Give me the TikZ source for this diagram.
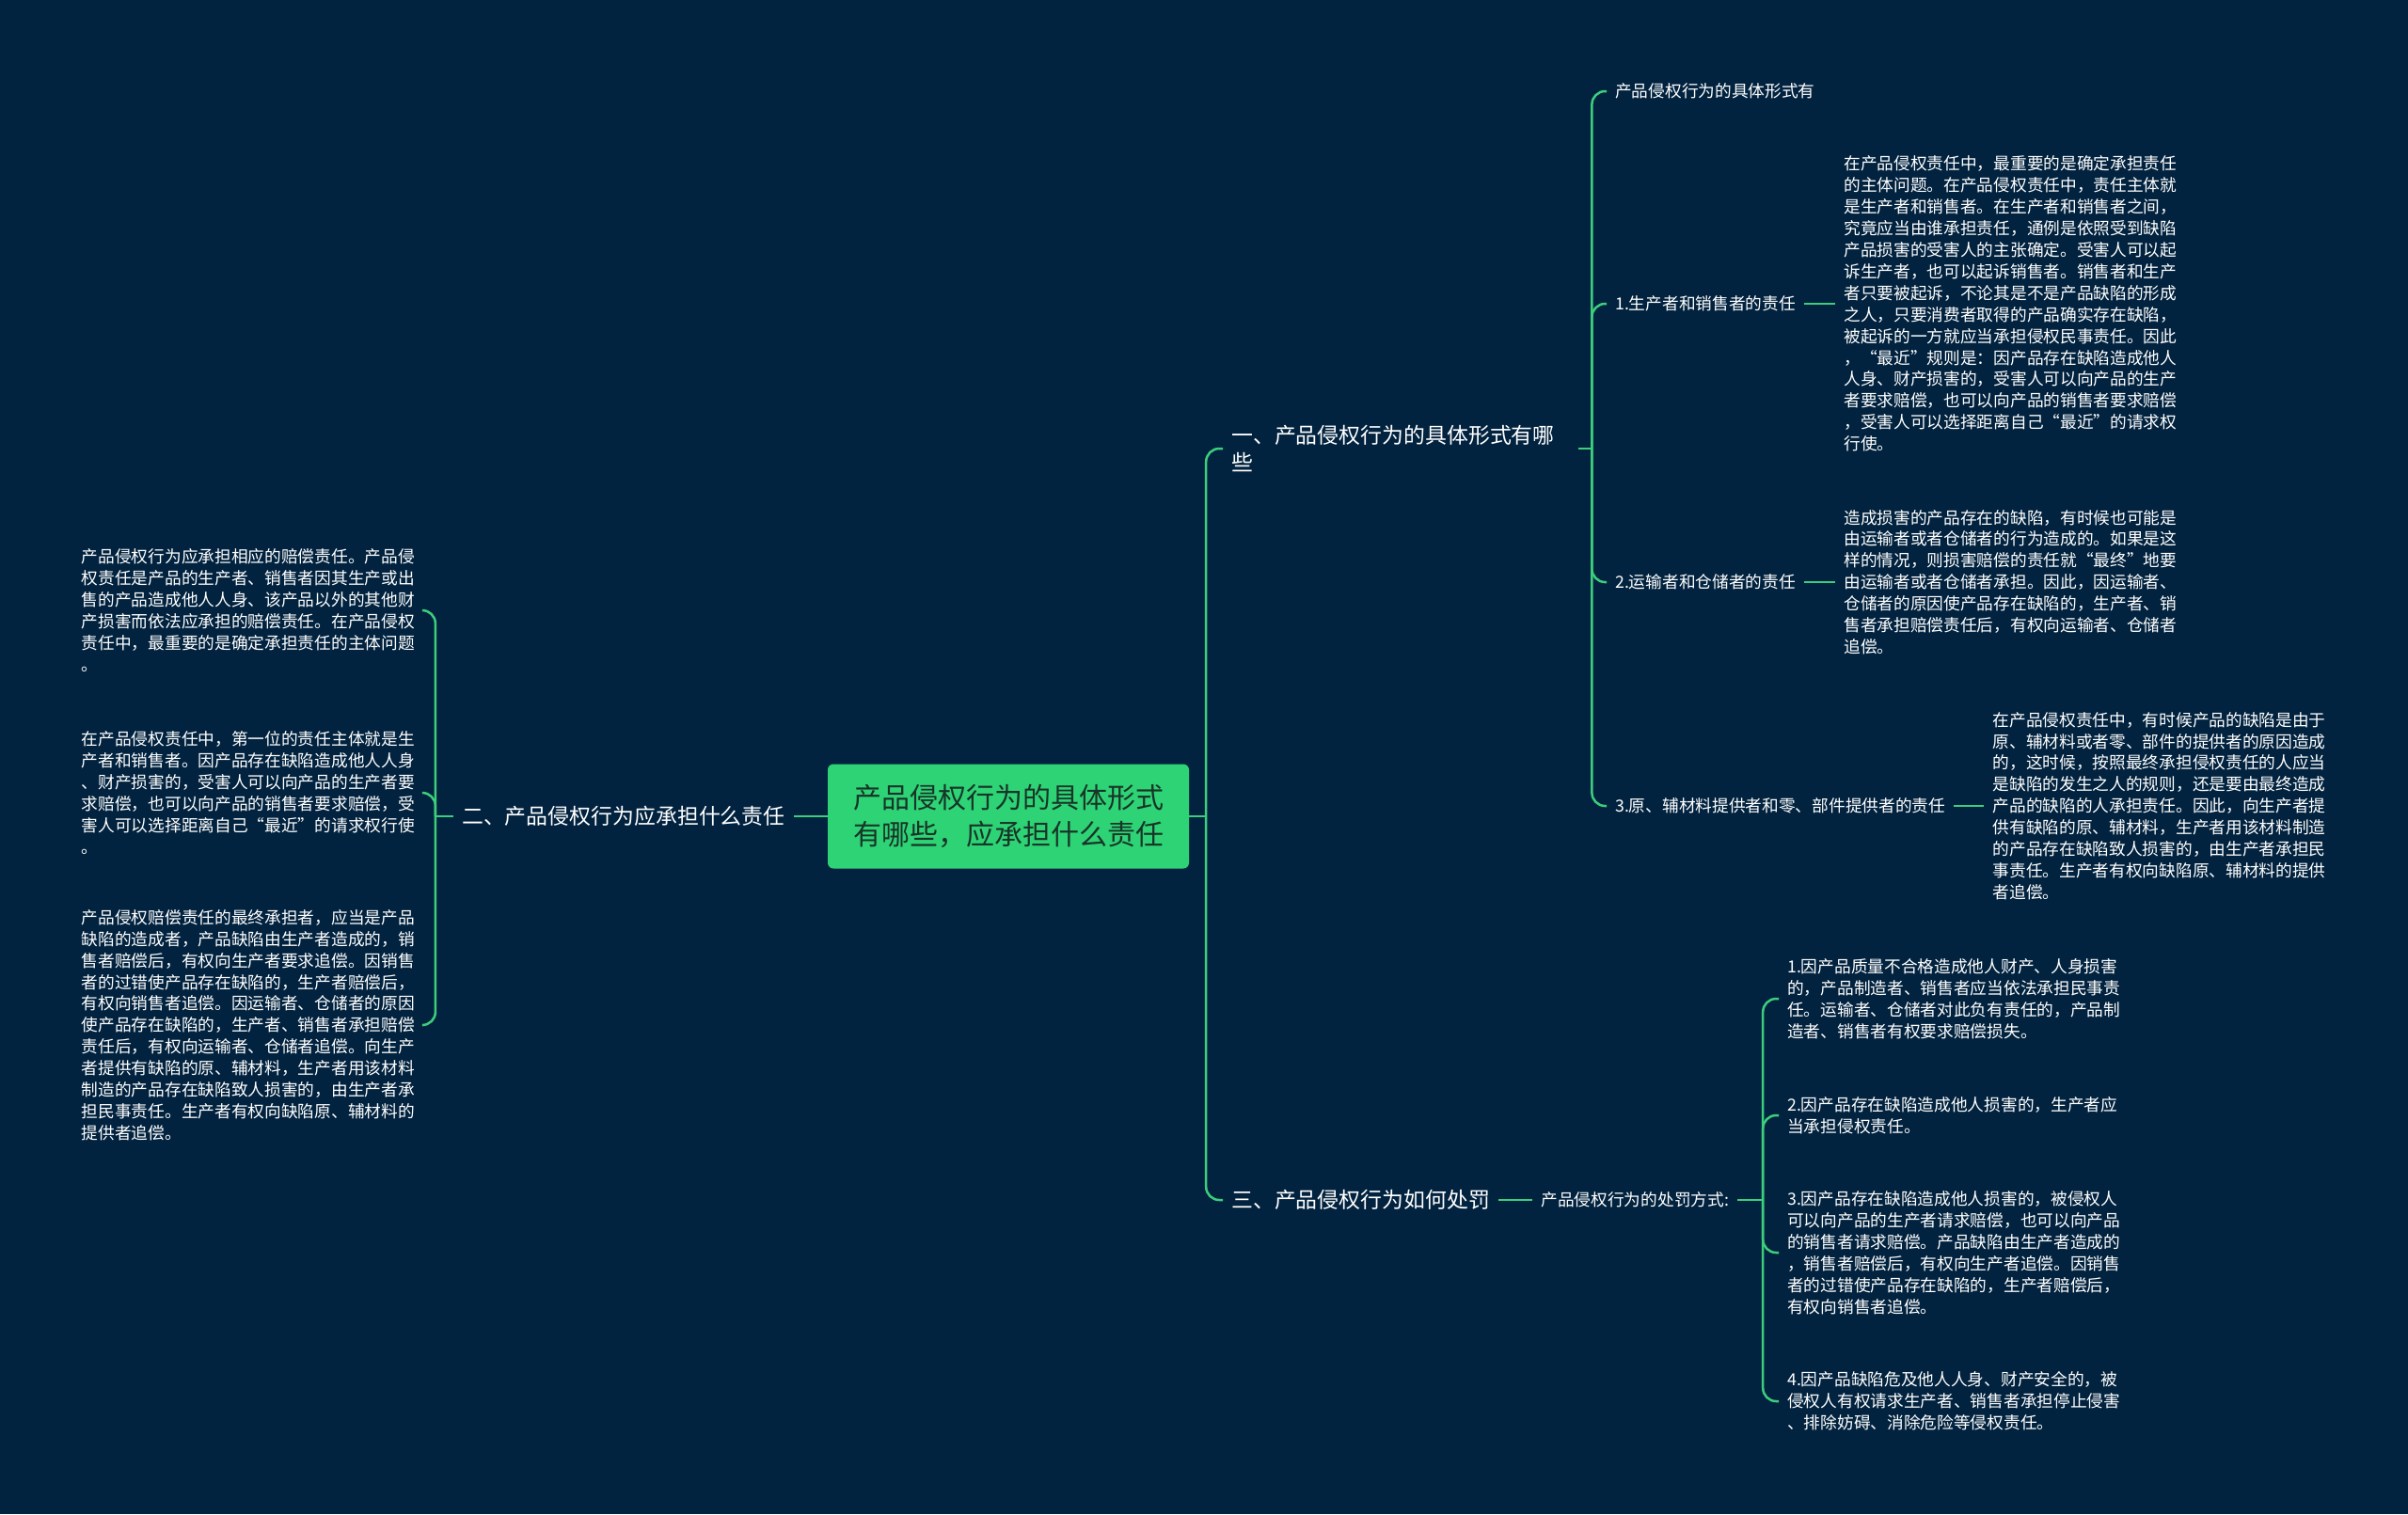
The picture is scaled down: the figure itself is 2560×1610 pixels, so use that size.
\documentclass[tikz,border=0pt]{standalone}
\usepackage{fontspec}
\setmainfont{Noto Sans CJK SC}
\usetikzlibrary{positioning}
\definecolor{bgnavy}{RGB}{2,35,63}
\definecolor{rootfill}{RGB}{46,211,117}
\definecolor{rootink}{RGB}{24,52,40}
\definecolor{linkgreen}{RGB}{60,205,125}
\tikzset{
  rootbox/.style={fill=rootfill, text=rootink, rounded corners=6pt, minimum width=384pt, minimum height=111pt, align=center, font=\fontsize{30}{39}\selectfont},
  branch/.style={text=white, inner xsep=9pt, inner ysep=3pt, align=left, font=\fontsize{22.9}{29}\selectfont},
  leaf/.style={text=white, inner xsep=9pt, inner ysep=3pt, align=left, font=\fontsize{17.7}{22.9}\selectfont},
  link/.style={draw=linkgreen, line width=2.5pt, rounded corners=14pt},
}

\begin{document}
\begin{tikzpicture}[x=1pt, y=-1pt]

  % --- Background ---
  \fill[bgnavy] (0,0) rectangle (2560,1610);

  % --- Root ---
  \node[rootbox] (root) at (1072,868) {产品侵权行为的具体形式\\有哪些，应承担什么责任};

  % --- Branch 1 ---
  \node[branch, anchor=west, text width=360pt] (b1) at (1300,477) {一、产品侵权行为的具体形式有哪\\些};
  \node[leaf, anchor=west] (a0) at (1708,97) {产品侵权行为的具体形式有};
  \node[leaf, anchor=west] (a1) at (1708,323) {1.生产者和销售者的责任};
  \node[leaf, right=33pt of a1] (a1t) {在产品侵权责任中，最重要的是确定承担责任\\的主体问题。在产品侵权责任中，责任主体就\\是生产者和销售者。在生产者和销售者之间，\\究竟应当由谁承担责任，通例是依照受到缺陷\\产品损害的受害人的主张确定。受害人可以起\\诉生产者，也可以起诉销售者。销售者和生产\\者只要被起诉，不论其是不是产品缺陷的形成\\之人，只要消费者取得的产品确实存在缺陷，\\被起诉的一方就应当承担侵权民事责任。因此\\，“最近”规则是：因产品存在缺陷造成他人\\人身、财产损害的，受害人可以向产品的生产\\者要求赔偿，也可以向产品的销售者要求赔偿\\，受害人可以选择距离自己“最近”的请求权\\行使。};
  \node[leaf, anchor=west] (a2) at (1708,619) {2.运输者和仓储者的责任};
  \node[leaf, right=33pt of a2] (a2t) {造成损害的产品存在的缺陷，有时候也可能是\\由运输者或者仓储者的行为造成的。如果是这\\样的情况，则损害赔偿的责任就“最终”地要\\由运输者或者仓储者承担。因此，因运输者、\\仓储者的原因使产品存在缺陷的，生产者、销\\售者承担赔偿责任后，有权向运输者、仓储者\\追偿。};
  \node[leaf, anchor=west] (a3) at (1708,857) {3.原、辅材料提供者和零、部件提供者的责任};
  \node[leaf, right=32pt of a3] (a3t) {在产品侵权责任中，有时候产品的缺陷是由于\\原、辅材料或者零、部件的提供者的原因造成\\的，这时候，按照最终承担侵权责任的人应当\\是缺陷的发生之人的规则，还是要由最终造成\\产品的缺陷的人承担责任。因此，向生产者提\\供有缺陷的原、辅材料，生产者用该材料制造\\的产品存在缺陷致人损害的，由生产者承担民\\事责任。生产者有权向缺陷原、辅材料的提供\\者追偿。};

  % --- Branch 2 ---
  \node[branch, left=36pt of root] (b2) {二、产品侵权行为应承担什么责任};
  \node[leaf, anchor=east] (l1) at (450,649) {产品侵权行为应承担相应的赔偿责任。产品侵\\权责任是产品的生产者、销售者因其生产或出\\售的产品造成他人人身、该产品以外的其他财\\产损害而依法应承担的赔偿责任。在产品侵权\\责任中，最重要的是确定承担责任的主体问题\\。};
  \node[leaf, anchor=east] (l2) at (450,843) {在产品侵权责任中，第一位的责任主体就是生\\产者和销售者。因产品存在缺陷造成他人人身\\、财产损害的，受害人可以向产品的生产者要\\求赔偿，也可以向产品的销售者要求赔偿，受\\害人可以选择距离自己“最近”的请求权行使\\。};
  \node[leaf, anchor=east] (l3) at (450,1090) {产品侵权赔偿责任的最终承担者，应当是产品\\缺陷的造成者，产品缺陷由生产者造成的，销\\售者赔偿后，有权向生产者要求追偿。因销售\\者的过错使产品存在缺陷的，生产者赔偿后，\\有权向销售者追偿。因运输者、仓储者的原因\\使产品存在缺陷的，生产者、销售者承担赔偿\\责任后，有权向运输者、仓储者追偿。向生产\\者提供有缺陷的原、辅材料，生产者用该材料\\制造的产品存在缺陷致人损害的，由生产者承\\担民事责任。生产者有权向缺陷原、辅材料的\\提供者追偿。};

  % --- Branch 3 ---
  \node[branch, anchor=west] (b3) at (1300,1276) {三、产品侵权行为如何处罚};
  \node[leaf, right=36pt of b3] (c31) {产品侵权行为的处罚方式:};
  \node[leaf, anchor=west] (d1) at (1891,1062) {1.因产品质量不合格造成他人财产、人身损害\\的，产品制造者、销售者应当依法承担民事责\\任。运输者、仓储者对此负有责任的，产品制\\造者、销售者有权要求赔偿损失。};
  \node[leaf, anchor=west] (d2) at (1891,1186) {2.因产品存在缺陷造成他人损害的，生产者应\\当承担侵权责任。};
  \node[leaf, anchor=west] (d3) at (1891,1332) {3.因产品存在缺陷造成他人损害的，被侵权人\\可以向产品的生产者请求赔偿，也可以向产品\\的销售者请求赔偿。产品缺陷由生产者造成的\\，销售者赔偿后，有权向生产者追偿。因销售\\者的过错使产品存在缺陷的，生产者赔偿后，\\有权向销售者追偿。};
  \node[leaf, anchor=west] (d4) at (1891,1490) {4.因产品缺陷危及他人人身、财产安全的，被\\侵权人有权请求生产者、销售者承担停止侵害\\、排除妨碍、消除危险等侵权责任。};

  % --- Junctions ---
  \coordinate (jroot) at ([xshift=18pt]root.east);
  \coordinate (jleft) at ([xshift=-19pt]b2.west);
  \coordinate (j1) at ([xshift=14pt]b1.east);
  \coordinate (j3) at ([xshift=27pt]c31.east);

  % --- Links ---
  \draw[link] (root.east) -- (jroot);
  \draw[link] (jroot) |- (b1.west);
  \draw[link] (jroot) |- (b3.west);
  \draw[link] (b2.east) -- (root.west);
  \draw[link] (b2.west) -- (jleft);
  \draw[link] (jleft) |- (l1.east);
  \draw[link] (jleft) |- (l2.east);
  \draw[link] (jleft) |- (l3.east);
  \draw[link] (b1.east) -- (j1);
  \draw[link] (j1) |- (a0.west);
  \draw[link] (j1) |- (a1.west);
  \draw[link] (j1) |- (a2.west);
  \draw[link] (j1) |- (a3.west);
  \draw[link] (a1.east) -- (a1t.west);
  \draw[link] (a2.east) -- (a2t.west);
  \draw[link] (a3.east) -- (a3t.west);
  \draw[link] (b3.east) -- (c31.west);
  \draw[link] (c31.east) -- (j3);
  \draw[link] (j3) |- (d1.west);
  \draw[link] (j3) |- (d2.west);
  \draw[link] (j3) |- (d3.west);
  \draw[link] (j3) |- (d4.west);

\end{tikzpicture}
\end{document}
